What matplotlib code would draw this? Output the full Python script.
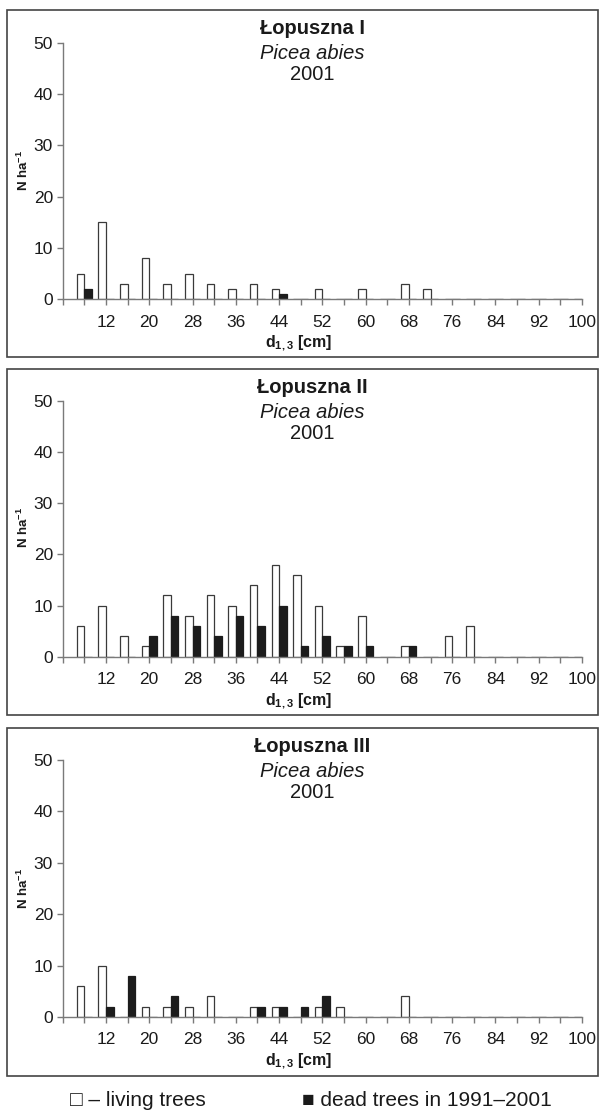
import matplotlib
matplotlib.use("Agg")
import matplotlib.pyplot as plt
from matplotlib.patches import Rectangle
import numpy as np

plt.rcParams['font.family'] = ['Liberation Sans', 'DejaVu Sans']
plt.rcParams['mathtext.fontset'] = 'custom'
plt.rcParams['mathtext.rm'] = 'Liberation Sans'
plt.rcParams['mathtext.it'] = 'Liberation Sans:italic'
plt.rcParams['mathtext.bf'] = 'Liberation Sans:bold'

diameters = [8, 12, 16, 20, 24, 28, 32, 36, 40, 44, 48, 52, 56, 60, 64, 68, 72, 76, 80, 84, 88, 92, 96, 100]

plots = ["Łopuszna I", "Łopuszna II", "Łopuszna III"]
species = "Picea abies"
year = "2001"

living_I = [5, 15, 3, 8, 3, 5, 3, 2, 3, 2, 0, 2, 0, 2, 0, 3, 2, 0, 0, 0, 0, 0, 0, 0]
dead_I   = [2, 0, 0, 0, 0, 0, 0, 0, 0, 1, 0, 0, 0, 0, 0, 0, 0, 0, 0, 0, 0, 0, 0, 0]

living_II = [6, 10, 4, 2, 12, 8, 12, 10, 14, 18, 16, 10, 2, 8, 0, 2, 0, 4, 6, 0, 0, 0, 0, 0]
dead_II   = [0, 0, 0, 4, 8, 6, 4, 8, 6, 10, 2, 4, 2, 2, 0, 2, 0, 0, 0, 0, 0, 0, 0, 0]

living_III = [6, 10, 0, 2, 2, 2, 4, 0, 2, 2, 0, 2, 2, 0, 0, 4, 0, 0, 0, 0, 0, 0, 0, 0]
dead_III   = [0, 2, 8, 0, 4, 0, 0, 0, 2, 2, 2, 4, 0, 0, 0, 0, 0, 0, 0, 0, 0, 0, 0, 0]

living = [living_I, living_II, living_III]
dead = [dead_I, dead_II, dead_III]

legend_living = "□ – living trees"
legend_dead = "■ dead trees in 1991–2001"

W, H = 602, 1113
fig = plt.figure(figsize=(W / 100, H / 100), dpi=100)

# pixel layout: (box_top, box_bottom, y50, y0)
layout = [(10, 357, 42.7, 299.4), (369, 715, 401, 656.7), (728, 1076, 760, 1017)]
x_left, x_right = 62.7, 582.0
box_l, box_r = 7, 598

axis_col = "#7a7a7a"
text_col = "#1a1a1a"
edge_col = "#3a3a3a"

x = np.arange(len(diameters))
bw = 0.35

for i in range(3):
    bt, bb, y50, y0 = layout[i]
    fig.patches.append(Rectangle((box_l / W, 1 - bb / H), (box_r - box_l) / W, (bb - bt) / H,
                                 transform=fig.transFigure, fill=False, edgecolor="#444444",
                                 linewidth=1.2, zorder=0))
    ax = fig.add_axes([x_left / W, 1 - y0 / H, (x_right - x_left) / W, (y0 - y50) / H])
    ax.bar(x, living[i], width=-bw, align='edge', facecolor='white', edgecolor=edge_col,
           linewidth=0.9, zorder=3)
    ax.bar(x, dead[i], width=bw, align='edge', facecolor='#1c1c1c', edgecolor='#1c1c1c',
           linewidth=0.9, zorder=3)
    ax.set_xlim(-1, len(diameters) - 1)
    ax.set_ylim(0, 50)
    for s in ['top', 'right']:
        ax.spines[s].set_visible(False)
    for s in ['left', 'bottom']:
        ax.spines[s].set_color(axis_col)
        ax.spines[s].set_linewidth(1.0)
        ax.spines[s].set_zorder(4)
    ax.set_yticks([0, 10, 20, 30, 40, 50])
    ax.set_xticks(np.arange(-1, len(diameters)))
    labels = [""] + [str(d) if (k % 2 == 1) else "" for k, d in enumerate(diameters)]
    ax.set_xticklabels(labels)
    ax.tick_params(axis='both', colors=axis_col, labelcolor=text_col, labelsize=12.5,
                   length=4, width=1.0, direction='out')
    ax.tick_params(axis='x', pad=7)
    ax.tick_params(axis='y', pad=3)
    ax.patch.set_alpha(0)

    cx = (312 - x_left) / (x_right - x_left)
    def ay(py):
        return (y0 - py) / (y0 - y50)
    ax.text(cx, ay(bt + 18.5), plots[i], transform=ax.transAxes, ha='center', va='center',
            fontsize=14.5, fontweight='bold', color=text_col)
    ax.text(cx, ay(bt + 43.5), species, transform=ax.transAxes, ha='center', va='center',
            fontsize=14.5, style='italic', color=text_col)
    ax.text(cx, ay(bt + 64.5), year, transform=ax.transAxes, ha='center', va='center',
            fontsize=14.5, color=text_col)
    ax.text((299 - x_left) / (x_right - x_left), ay(y0 + 44), r"$\mathbf{d_{1,3}\ [cm]}$",
            transform=ax.transAxes, ha='center', va='center', fontsize=11.5, color=text_col)
    ax.text((23 - x_left) / (x_right - x_left), ay(y0 - 129), r"$\mathbf{N\ ha^{-1}}$",
            transform=ax.transAxes, ha='center', va='center', rotation=90,
            fontsize=9.5, color=text_col)

fig.text(70 / W, 1 - 1101 / H, legend_living, ha='left', va='center', fontsize=15, color=text_col)
fig.text(302 / W, 1 - 1101 / H, legend_dead, ha='left', va='center', fontsize=15, color=text_col)

fig.savefig("out.png", dpi=100, facecolor='white')
